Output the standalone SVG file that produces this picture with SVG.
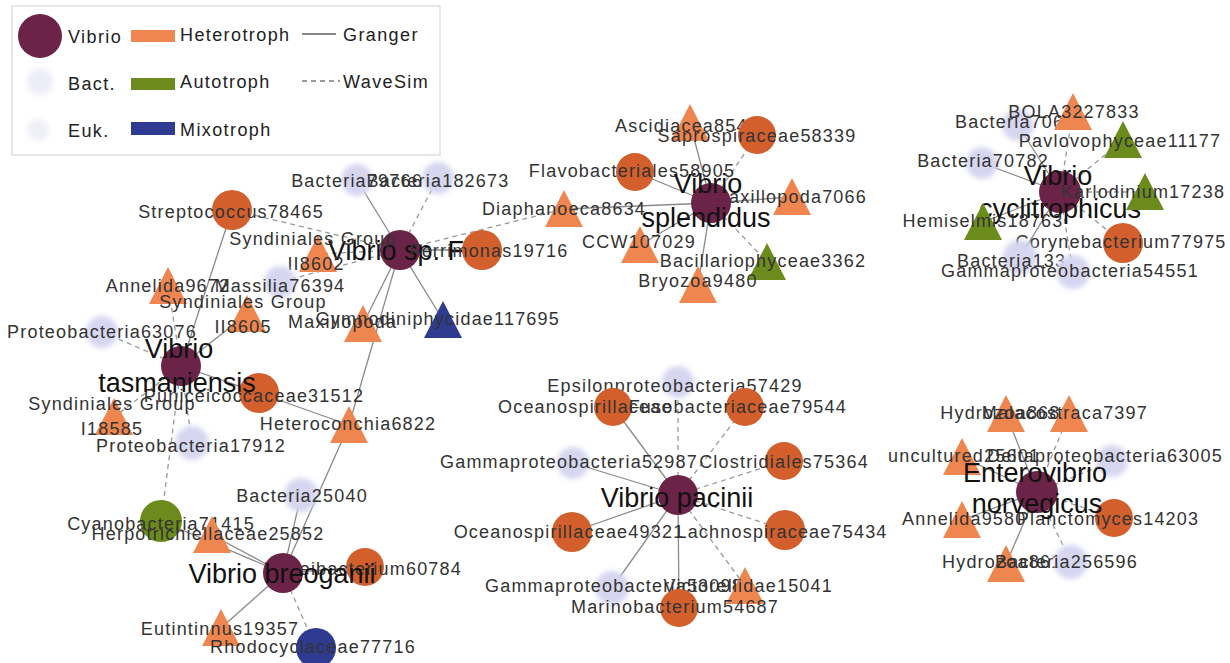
<svg xmlns="http://www.w3.org/2000/svg" xmlns:xlink="http://www.w3.org/1999/xlink" width="1230" height="663" viewBox="0 0 1230 663">
<style>
text{font-family:"Liberation Sans",Arial,sans-serif}
.l{font-size:18px;letter-spacing:1.2px;fill:#333;text-anchor:middle}
.s{text-anchor:start}
.e{text-anchor:end}
.h{font-size:27px;fill:#111;text-anchor:middle}
.lg{font-size:18px;letter-spacing:1.4px;fill:#222}
.hub{fill:#6b2448}
.hc{fill:#d35f2c}
.ht{fill:#ef8650}
.au{fill:#6b8c1d}
.mx{fill:#2e3b90}
.fz{fill:#d6d6f1;filter:url(#blur)}
.g{stroke:#8a8a8a;stroke-width:1.3;fill:none}
.w{stroke:#9a9a9a;stroke-width:1.3;stroke-dasharray:5 4;fill:none}
</style>
<defs>
<filter id="blur" x="-50%" y="-50%" width="200%" height="200%"><feGaussianBlur stdDeviation="2.5"/></filter>
<polygon id="tri" points="0,-19 19,18 -19,18"/>
</defs>
<rect width="1230" height="663" fill="#fff"/>
<g id="legend">
<rect x="12" y="6" width="428" height="149" fill="#fff" stroke="#cfcfcf" stroke-width="1"/>
<circle cx="40" cy="36" r="22" class="hub"/>
<text x="68" y="43" class="lg">Vibrio</text>
<circle cx="40" cy="82" r="13" style="fill:#ededf8;filter:url(#blur)"/>
<text x="68" y="90" class="lg">Bact.</text>
<circle cx="38" cy="130" r="11" style="fill:#f0f0f9;filter:url(#blur)"/>
<text x="68" y="137" class="lg">Euk.</text>
<rect x="131" y="30" width="44" height="12" class="ht"/>
<text x="180" y="41" class="lg">Heterotroph</text>
<rect x="131" y="78" width="44" height="12" class="au"/>
<text x="180" y="88" class="lg">Autotroph</text>
<rect x="131" y="122" width="44" height="13" class="mx"/>
<text x="180" y="136" class="lg">Mixotroph</text>
<line x1="302" y1="34" x2="336" y2="34" class="g" style="stroke-width:2"/>
<text x="343" y="41" class="lg">Granger</text>
<line x1="302" y1="81" x2="340" y2="81" class="w" style="stroke-width:2;stroke-dasharray:5 4"/>
<text x="343" y="88" class="lg">WaveSim</text>
</g>
<g id="connectors">
<line x1="400" y1="250" x2="357" y2="180" class="g"/>
<line x1="400" y1="250" x2="438" y2="178" class="w"/>
<line x1="400" y1="250" x2="232" y2="210" class="w"/>
<line x1="400" y1="250" x2="318" y2="254" class="w"/>
<line x1="400" y1="250" x2="280" y2="282" class="w"/>
<line x1="400" y1="250" x2="482" y2="250" class="g"/>
<line x1="400" y1="250" x2="564" y2="209" class="w"/>
<line x1="400" y1="250" x2="363" y2="324" class="g"/>
<line x1="400" y1="250" x2="349" y2="425" class="g"/>
<line x1="400" y1="250" x2="443" y2="320" class="g"/>
<line x1="711" y1="203" x2="690" y2="123" class="g"/>
<line x1="711" y1="203" x2="757" y2="135" class="w"/>
<line x1="711" y1="203" x2="635" y2="172" class="g"/>
<line x1="711" y1="203" x2="564" y2="209" class="g"/>
<line x1="711" y1="203" x2="792" y2="197" class="g"/>
<line x1="711" y1="203" x2="640" y2="245" class="g"/>
<line x1="711" y1="203" x2="767" y2="262" class="w"/>
<line x1="711" y1="203" x2="698" y2="285" class="g"/>
<line x1="1060" y1="192" x2="1073" y2="112" class="w"/>
<line x1="1060" y1="192" x2="1018" y2="125" class="g"/>
<line x1="1060" y1="192" x2="1123" y2="140" class="w"/>
<line x1="1060" y1="192" x2="982" y2="163" class="g"/>
<line x1="1060" y1="192" x2="1145" y2="192" class="w"/>
<line x1="1060" y1="192" x2="983" y2="222" class="g"/>
<line x1="1060" y1="192" x2="1123" y2="243" class="w"/>
<line x1="1060" y1="192" x2="1020" y2="257" class="g"/>
<line x1="1060" y1="192" x2="1073" y2="272" class="w"/>
<line x1="181" y1="366" x2="102" y2="332" class="w"/>
<line x1="181" y1="366" x2="247" y2="314" class="g"/>
<line x1="181" y1="366" x2="168" y2="286" class="w"/>
<line x1="181" y1="366" x2="232" y2="210" class="g"/>
<line x1="181" y1="366" x2="259" y2="393" class="g"/>
<line x1="259" y1="393" x2="349" y2="425" class="g"/>
<line x1="181" y1="366" x2="114" y2="417" class="w"/>
<line x1="181" y1="366" x2="192" y2="443" class="w"/>
<line x1="181" y1="366" x2="161" y2="521" class="w"/>
<line x1="283" y1="573" x2="301" y2="495" class="g"/>
<line x1="283" y1="573" x2="349" y2="425" class="g"/>
<line x1="283" y1="573" x2="212" y2="535" class="g"/>
<line x1="283" y1="573" x2="161" y2="521" class="g"/>
<line x1="283" y1="573" x2="365" y2="567" class="g"/>
<line x1="283" y1="573" x2="221" y2="628" class="g"/>
<line x1="283" y1="573" x2="316" y2="648" class="w"/>
<line x1="678" y1="495" x2="678" y2="382" class="w"/>
<line x1="678" y1="495" x2="613" y2="407" class="g"/>
<line x1="678" y1="495" x2="745" y2="407" class="w"/>
<line x1="678" y1="495" x2="573" y2="463" class="g"/>
<line x1="678" y1="495" x2="784" y2="461" class="w"/>
<line x1="678" y1="495" x2="572" y2="532" class="g"/>
<line x1="678" y1="495" x2="785" y2="530" class="w"/>
<line x1="678" y1="495" x2="612" y2="588" class="g"/>
<line x1="678" y1="495" x2="679" y2="608" class="g"/>
<line x1="678" y1="495" x2="745" y2="586" class="w"/>
<line x1="1037" y1="492" x2="1006" y2="414" class="g"/>
<line x1="1037" y1="492" x2="1069" y2="414" class="w"/>
<line x1="1037" y1="492" x2="962" y2="457" class="g"/>
<line x1="1037" y1="492" x2="1112" y2="461" class="w"/>
<line x1="1037" y1="492" x2="962" y2="520" class="g"/>
<line x1="1037" y1="492" x2="1114" y2="518" class="w"/>
<line x1="1037" y1="492" x2="1006" y2="564" class="g"/>
<line x1="1037" y1="492" x2="1071" y2="562" class="w"/>
</g>
<g id="vibrio-sp-f"><circle cx="400" cy="250" r="20" class="hub"/><text x="396" y="260" class="h">Vibrio sp. F</text></g>
<g id="bacteria79766"><circle cx="357" cy="180" r="16" class="fz"/><text x="357" y="187" class="l">Bacteria79766</text></g>
<g id="bacteria182673"><circle cx="438" cy="178" r="16" class="fz"/><text x="438" y="187" class="l">Bacteria182673</text></g>
<g id="streptococcus78465"><circle cx="232" cy="210" r="20" class="hc"/><text x="231" y="218" class="l">Streptococcus78465</text></g>
<g id="syndiniales-ii8602"><use xlink:href="#tri" x="318" y="254" class="ht"/><text x="313" y="245" class="l">Syndiniales Group</text><text x="316" y="270" class="l">II8602</text></g>
<g id="massilia76394"><circle cx="280" cy="282" r="16" class="fz"/><text x="280" y="292" class="l">Massilia76394</text></g>
<g id="ferrimonas19716"><circle cx="482" cy="250" r="20" class="hc"/><text x="489" y="257" class="l">Ferrimonas19716</text></g>
<g id="diaphanoeca8634"><use xlink:href="#tri" x="564" y="209" class="ht"/><text x="564" y="215" class="l">Diaphanoeca8634</text></g>
<g id="maxillopoda-a"><use xlink:href="#tri" x="363" y="324" class="ht"/><text x="288" y="328" class="l s">Maxillopoda</text></g>
<g id="gymnodiniphycidae117695"><use xlink:href="#tri" x="443" y="320" class="mx"/><text x="560" y="325" class="l e">Gymnodiniphycidae117695</text></g>
<g id="ascidiacea"><use xlink:href="#tri" x="690" y="123" class="ht"/><text x="615" y="132" class="l s">Ascidiacea854</text></g>
<g id="saprospiraceae58339"><circle cx="757" cy="135" r="19" class="hc"/><text x="757" y="142" class="l">Saprospiraceae58339</text></g>
<g id="flavobacteriales58905"><circle cx="635" cy="172" r="19" class="hc"/><text x="632" y="177" class="l">Flavobacteriales58905</text></g>
<g id="maxillopoda7066"><use xlink:href="#tri" x="792" y="197" class="ht"/><text x="867" y="203" class="l e">Maxillopoda7066</text></g>
<g id="ccw107029"><use xlink:href="#tri" x="640" y="245" class="ht"/><text x="639" y="248" class="l">CCW107029</text></g>
<g id="bacillariophyceae3362"><use xlink:href="#tri" x="767" y="262" class="au"/><text x="763" y="267" class="l">Bacillariophyceae3362</text></g>
<g id="bryozoa9480"><use xlink:href="#tri" x="698" y="285" class="ht"/><text x="698" y="287" class="l">Bryozoa9480</text></g>
<g id="vibrio-splendidus"><circle cx="711" cy="203" r="20" class="hub"/><text x="708" y="193" class="h">Vibrio</text><text x="706" y="227" class="h">splendidus</text></g>
<g id="bacteria706"><circle cx="1018" cy="125" r="16" class="fz"/><text x="955" y="128" class="l s">Bacteria706</text></g>
<g id="bola3227833"><use xlink:href="#tri" x="1073" y="112" class="ht"/><text x="1074" y="118" class="l">BOLA3227833</text></g>
<g id="pavlovophyceae11177"><use xlink:href="#tri" x="1123" y="140" class="au"/><text x="1120" y="147" class="l">Pavlovophyceae11177</text></g>
<g id="bacteria70782"><circle cx="982" cy="163" r="16" class="fz"/><text x="983" y="167" class="l">Bacteria70782</text></g>
<g id="vibrio-cyclitrophicus"><circle cx="1060" cy="192" r="21" class="hub"/><text x="1058" y="185" class="h">Vibrio</text><text x="1060" y="218" class="h">cyclitrophicus</text></g>
<g id="karlodinium17238"><use xlink:href="#tri" x="1145" y="192" class="au"/><text x="1143" y="198" class="l">Karlodinium17238</text></g>
<g id="hemiselmis18763"><use xlink:href="#tri" x="983" y="222" class="au"/><text x="983" y="227" class="l">Hemiselmis18763</text></g>
<g id="corynebacterium77975"><circle cx="1123" cy="243" r="20" class="hc"/><text x="1121" y="248" class="l">Corynebacterium77975</text></g>
<g id="bacteria133"><circle cx="1020" cy="257" r="17" class="fz"/><text x="957" y="267" class="l s">Bacteria133</text></g>
<g id="gammaproteobacteria54551"><circle cx="1073" cy="272" r="17" class="fz"/><text x="1070" y="277" class="l">Gammaproteobacteria54551</text></g>
<g id="proteobacteria63076"><circle cx="102" cy="332" r="16" class="fz"/><text x="102" y="338" class="l">Proteobacteria63076</text></g>
<g id="annelida9672"><use xlink:href="#tri" x="168" y="286" class="ht"/><text x="168" y="292" class="l">Annelida9672</text></g>
<g id="syndiniales-ii8605"><use xlink:href="#tri" x="247" y="314" class="ht"/><text x="243" y="308" class="l">Syndiniales Group</text><text x="243" y="333" class="l">II8605</text></g>
<g id="puniceicoccaceae31512"><circle cx="259" cy="393" r="20" class="hc"/><text x="254" y="402" class="l">Puniceicoccaceae31512</text></g>
<g id="syndiniales-i18585"><use xlink:href="#tri" x="114" y="417" class="ht"/><text x="112" y="410" class="l">Syndiniales Group</text><text x="112" y="435" class="l">I18585</text></g>
<g id="proteobacteria17912"><circle cx="192" cy="443" r="17" class="fz"/><text x="191" y="452" class="l">Proteobacteria17912</text></g>
<g id="heteroconchia6822"><use xlink:href="#tri" x="349" y="425" class="ht"/><text x="348" y="430" class="l">Heteroconchia6822</text></g>
<g id="vibrio-tasmaniensis"><circle cx="181" cy="366" r="20" class="hub"/><text x="179" y="358" class="h">Vibrio</text><text x="177" y="392" class="h">tasmaniensis</text></g>
<g id="cyanobacteria71415"><circle cx="161" cy="521" r="21" class="au"/><text x="161" y="530" class="l">Cyanobacteria71415</text></g>
<g id="bacteria25040"><circle cx="301" cy="495" r="17" class="fz"/><text x="302" y="502" class="l">Bacteria25040</text></g>
<g id="herpotrichiellaceae25852"><use xlink:href="#tri" x="212" y="535" class="ht"/><text x="208" y="540" class="l">Herpotrichiellaceae25852</text></g>
<g id="roseibacterium60784"><circle cx="365" cy="567" r="19" class="hc"/><text x="462" y="575" class="l e">Roseibacterium60784</text></g>
<g id="eutintinnus19357"><use xlink:href="#tri" x="221" y="628" class="ht"/><text x="220" y="635" class="l">Eutintinnus19357</text></g>
<g id="rhodocyclaceae77716"><circle cx="316" cy="648" r="20" class="mx"/><text x="313" y="653" class="l">Rhodocyclaceae77716</text></g>
<g id="vibrio-breoganii"><circle cx="283" cy="573" r="20" class="hub"/><text x="282" y="583" class="h">Vibrio breoganii</text></g>
<g id="epsilonproteobacteria57429"><circle cx="678" cy="382" r="16" class="fz"/><text x="675" y="392" class="l">Epsilonproteobacteria57429</text></g>
<g id="oceanospirillaceae-a"><circle cx="613" cy="407" r="19" class="hc"/><text x="498" y="413" class="l s">Oceanospirillaceae</text></g>
<g id="fusobacteriaceae79544"><circle cx="745" cy="407" r="19" class="hc"/><text x="847" y="413" class="l e">Fusobacteriaceae79544</text></g>
<g id="gammaproteobacteria52987"><circle cx="573" cy="463" r="16" class="fz"/><text x="569" y="468" class="l">Gammaproteobacteria52987</text></g>
<g id="clostridiales75364"><circle cx="784" cy="461" r="19" class="hc"/><text x="784" y="468" class="l">Clostridiales75364</text></g>
<g id="oceanospirillaceae49321"><circle cx="572" cy="532" r="20" class="hc"/><text x="569" y="538" class="l">Oceanospirillaceae49321</text></g>
<g id="lachnospiraceae75434"><circle cx="785" cy="530" r="20" class="hc"/><text x="782" y="538" class="l">Lachnospiraceae75434</text></g>
<g id="gammaproteobacteria53098"><circle cx="612" cy="588" r="17" class="fz"/><text x="485" y="592" class="l s">Gammaproteobacteria53098</text></g>
<g id="victorellidae15041"><use xlink:href="#tri" x="745" y="586" class="ht"/><text x="833" y="592" class="l e">Victorellidae15041</text></g>
<g id="marinobacterium54687"><circle cx="679" cy="608" r="19" class="hc"/><text x="675" y="613" class="l">Marinobacterium54687</text></g>
<g id="vibrio-pacinii"><circle cx="678" cy="495" r="20" class="hub"/><text x="677" y="507" class="h">Vibrio pacinii</text></g>
<g id="hydrozoa-a"><use xlink:href="#tri" x="1006" y="414" class="ht"/><text x="1006" y="419" class="l">Hydrozoa8686</text></g>
<g id="malacostraca7397"><use xlink:href="#tri" x="1069" y="414" class="ht"/><text x="1148" y="419" class="l e">Malacostraca7397</text></g>
<g id="uncultured25601"><use xlink:href="#tri" x="962" y="457" class="ht"/><text x="888" y="462" class="l s">uncultured25601</text></g>
<g id="deltaproteobacteria63005"><circle cx="1112" cy="461" r="16" class="fz"/><text x="1223" y="462" class="l e">Deltaproteobacteria63005</text></g>
<g id="annelida9580"><use xlink:href="#tri" x="962" y="520" class="ht"/><text x="902" y="525" class="l s">Annelida9580</text></g>
<g id="planctomyces14203"><circle cx="1114" cy="518" r="19" class="hc"/><text x="1108" y="525" class="l">Planctomyces14203</text></g>
<g id="hydrozoa-b"><use xlink:href="#tri" x="1006" y="564" class="ht"/><text x="942" y="568" class="l s">Hydrozoa8613</text></g>
<g id="bacteria256596"><circle cx="1071" cy="562" r="17" class="fz"/><text x="1138" y="568" class="l e">Bacteria256596</text></g>
<g id="enterovibrio-norvegicus"><circle cx="1037" cy="492" r="21" class="hub"/><text x="1035" y="482" class="h">Enterovibrio</text><text x="1037" y="513" class="h">norvegicus</text></g>
</svg>
